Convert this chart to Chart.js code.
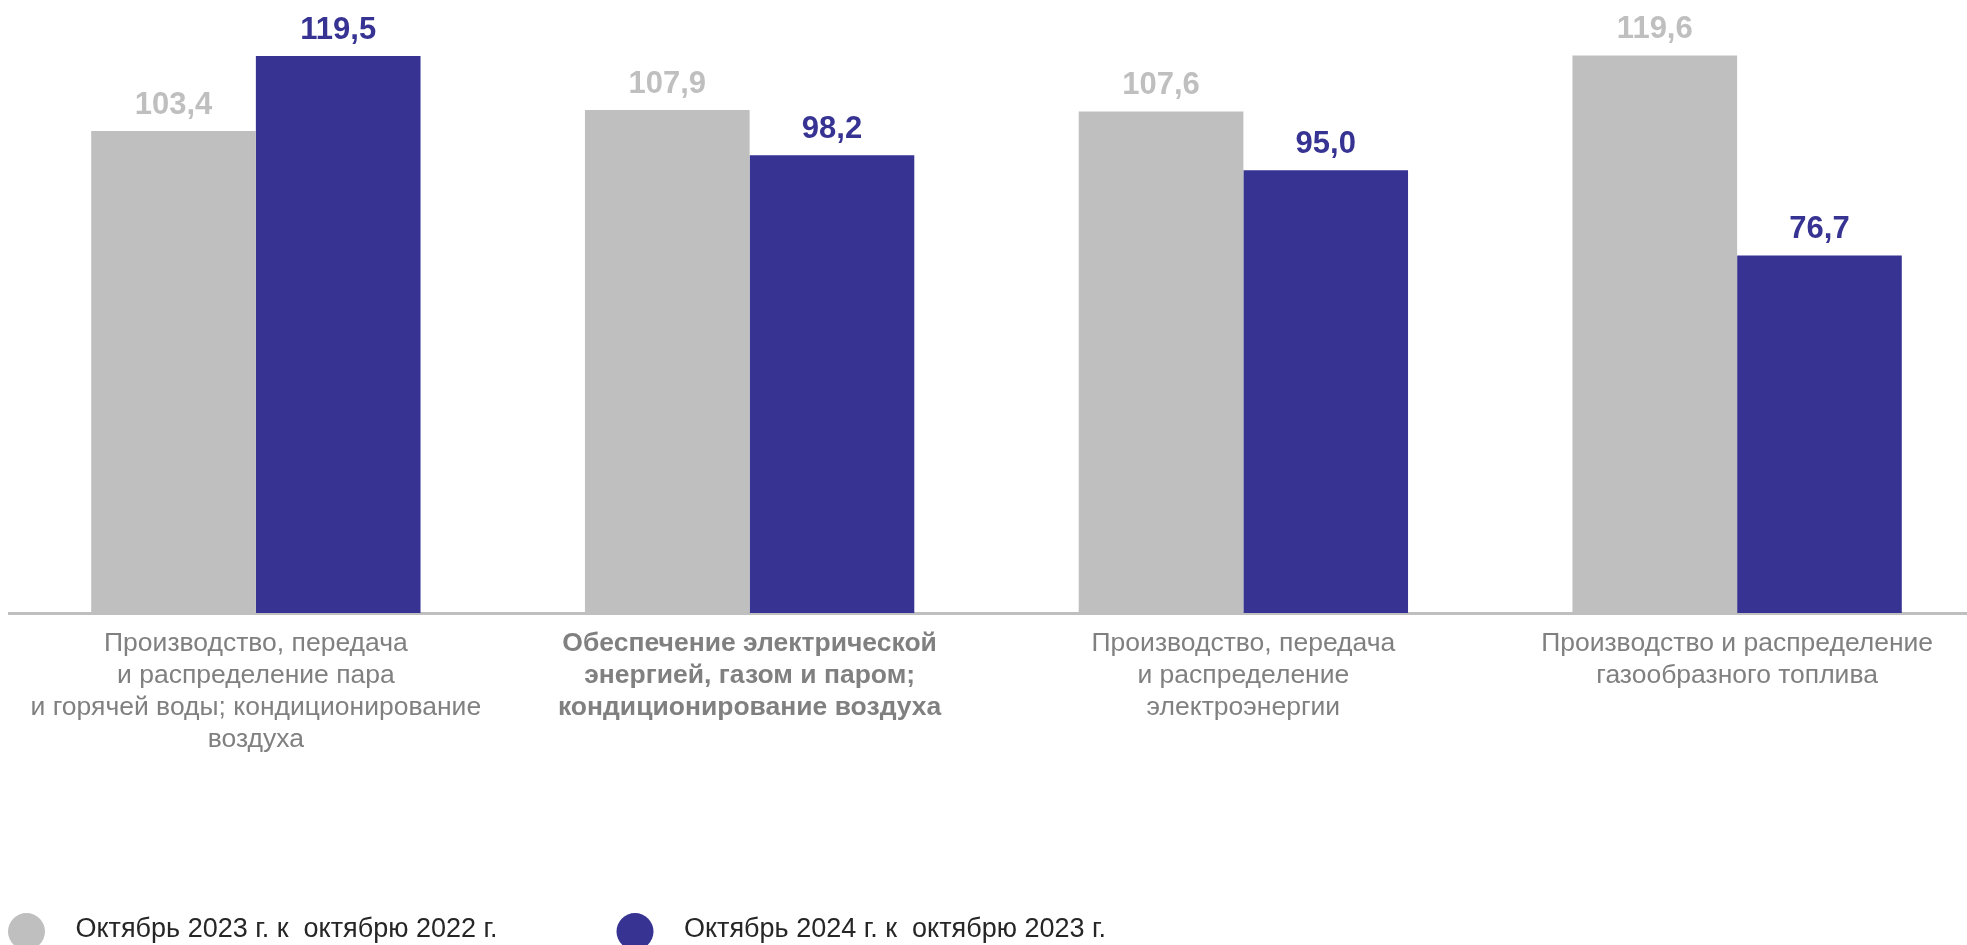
<!DOCTYPE html>
<html>
<head>
<meta charset="utf-8">
<script src="https://cdn.jsdelivr.net/npm/chart.js@4"></script>
<style>
  html, body { margin: 0; padding: 0; background: #fff; overflow: hidden; }
  #wrap { width: 1990px; height: 945px; position: relative; }
</style>
</head>
<body>
<div id="wrap"><canvas id="chart"></canvas></div>
<script>
const categories = [
    ['Производство, передача', 'и распределение пара', 'и горячей воды; кондиционирование', 'воздуха'],
    ['Обеспечение электрической', 'энергией, газом и паром;', 'кондиционирование воздуха'],
    ['Производство, передача', 'и распределение', 'электроэнергии'],
    ['Производство и распределение', 'газообразного топлива']
];
const seriesNames = ['Октябрь 2023 г. к  октябрю 2022 г.', 'Октябрь 2024 г. к  октябрю 2023 г.'];
const values2023 = [103.4, 107.9, 107.6, 119.6];
const values2024 = [119.5, 98.2, 95.0, 76.7];
const boldCategory = 1;

const GREY = '#bfbfbf';
const BLUE = '#363393';
const FONT = '"Liberation Sans", Arial, sans-serif';

// value labels above bars + legend row at the bottom
const labelsPlugin = {
    id: 'valueLabels',
    afterDatasetsDraw(chart) {
        const ctx = chart.ctx;
        ctx.save();
        ctx.font = 'bold 31px ' + FONT;
        ctx.textAlign = 'center';
        ctx.textBaseline = 'alphabetic';
        chart.data.datasets.forEach((ds, i) => {
            chart.getDatasetMeta(i).data.forEach((bar, j) => {
                ctx.fillStyle = ds.backgroundColor;
                ctx.fillText(ds.data[j].toFixed(1).replace('.', ','), bar.x, bar.y - 17);
            });
        });
        ctx.restore();
    },
    afterDraw(chart) {
        const ctx = chart.ctx;
        const itemX = [26.5, 635];
        ctx.save();
        ctx.font = '27px ' + FONT;
        ctx.textBaseline = 'middle';
        ctx.textAlign = 'left';
        chart.data.datasets.forEach((ds, i) => {
            ctx.fillStyle = ds.backgroundColor;
            ctx.beginPath();
            ctx.arc(itemX[i], 931.5, 18.5, 0, Math.PI * 2);
            ctx.fill();
            ctx.fillStyle = '#262626';
            ctx.fillText(ds.label, itemX[i] + 49, 930);
        });
        ctx.restore();
    }
};

new Chart(document.getElementById('chart'), {
    type: 'bar',
    data: {
        labels: categories,
        datasets: [
            { label: seriesNames[0], data: values2023, backgroundColor: GREY },
            { label: seriesNames[1], data: values2024, backgroundColor: BLUE }
        ]
    },
    options: {
        responsive: true,
        maintainAspectRatio: false,
        animation: false,
        devicePixelRatio: 1,
        layout: { padding: { top: 7, left: 9, right: 6, bottom: 0 } },
        plugins: {
            legend: { display: false },
            tooltip: { enabled: false }
        },
        datasets: {
            bar: { barPercentage: 1.0, categoryPercentage: 0.667 }
        },
        scales: {
            x: {
                grid: { display: false, drawTicks: false },
                border: { display: true, color: '#bfbfbf', width: 3 },
                afterFit: s => { s.height = 332; },
                ticks: {
                    maxRotation: 0,
                    autoSkip: false,
                    padding: 15,
                    color: '#808080',
                    font: c => ({
                        family: FONT,
                        size: 26.5,
                        lineHeight: 1.2,
                        weight: c.index === boldCategory ? 'bold' : 'normal'
                    })
                }
            },
            y: {
                display: false,
                min: 0,
                max: 130
            }
        }
    },
    plugins: [labelsPlugin]
});
</script>
</body>
</html>
